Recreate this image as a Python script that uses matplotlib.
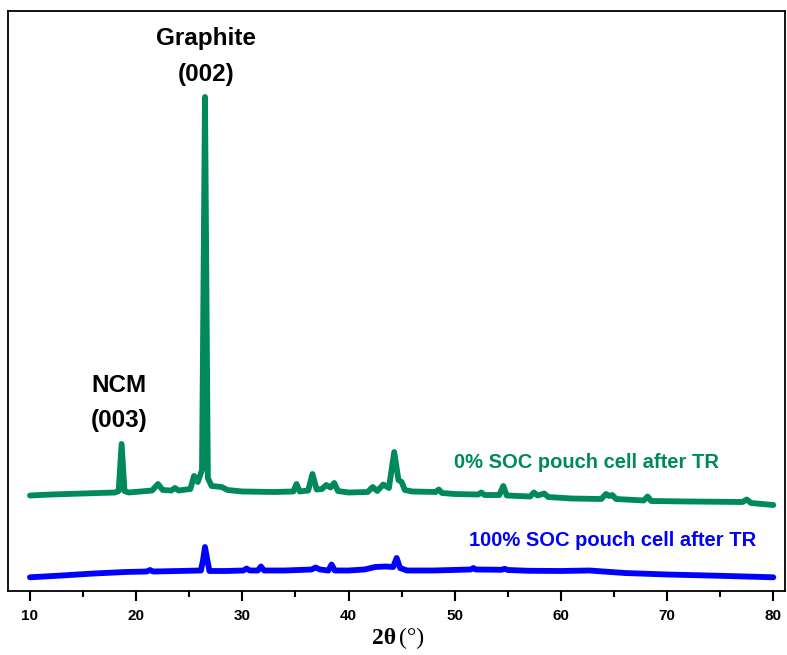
import numpy as np
import matplotlib
matplotlib.use("Agg")
import matplotlib.pyplot as plt
from matplotlib.ticker import MultipleLocator

#xrd patterns (2theta in degrees, intensity in a.u.)
two_theta_0 = [10.0, 12, 15, 18.0, 18.35, 18.63, 18.9, 19.3, 21.5, 22.05, 22.5, 23.3, 23.65, 24.0,
               25.1, 25.45, 25.8, 26.2, 26.48, 26.75, 27.1, 28.05, 28.6, 30, 33, 34.8, 35.1, 35.4,
               36.2, 36.6, 37.0, 37.5, 37.9, 38.3, 38.65, 39.0, 40, 41.8, 42.27, 42.7, 43.27, 43.8,
               44.3, 44.7, 45.0, 45.3, 46, 48.2, 48.5, 48.8, 50, 52.2, 52.5, 52.8, 54.2, 54.57,
               54.9, 57.1, 57.46, 57.8, 58.43, 58.8, 61, 63.8, 64.24, 64.55, 64.83, 65.2, 67.8,
               68.16, 68.5, 72, 77.1, 77.5, 77.9, 80]
intensity_0 = [95.5, 96.5, 97.5, 98.5, 100, 147, 100, 98.5, 100.5, 107, 101, 100.5, 103, 100.5,
               102, 115, 109, 121, 494, 113, 105, 104, 101, 99.5, 99, 99.5, 107, 99.5,
               100.5, 117, 101.5, 102, 106, 103.5, 108, 100, 98.5, 99, 104, 100, 106.5, 103,
               139, 111, 109, 101, 99.5, 99, 101.5, 98, 97, 96.5, 98.5, 96, 96, 105,
               95.5, 94.5, 98.5, 95.5, 97.5, 94, 92.5, 92, 97, 95, 96, 92, 90.5,
               94.5, 90, 89.5, 89, 91.5, 88, 86]

two_theta_100 = [10.0, 13, 16, 19, 21.0, 21.3, 21.6, 24, 26.1, 26.3, 26.48, 26.7, 26.9, 28.5,
                 30.1, 30.4, 30.7, 31.45, 31.75, 32.05, 34, 36.5, 36.9, 37.3, 38.1, 38.4, 38.7,
                 40, 41.5, 42.5, 43.5, 44.2, 44.53, 44.85, 45.5, 48, 51.5, 51.75, 52, 54.4,
                 54.7, 55, 57, 60, 62.7, 64, 66, 70, 75, 80]
intensity_100 = [13.7, 15.5, 17.5, 19, 19.5, 21, 19.5, 20, 20.5, 31, 44, 31, 20, 20,
                 20.5, 22.5, 20.5, 20.5, 24.5, 20.5, 20.5, 21.5, 23.5, 21.5, 20.5, 26.5, 20.5,
                 20.5, 21.5, 24, 24.5, 24, 33, 23, 20.5, 20.5, 21.5, 23, 21.5, 21.2,
                 22.2, 21, 20.2, 20, 20.5, 19.5, 18, 16.5, 15.2, 13.7]

label_0 = "0% SOC pouch cell after TR"
label_100 = "100% SOC pouch cell after TR"
green = "#008A5A"
blue = "#0000FF"

fig = plt.figure(figsize=(7.87, 6.55), dpi=100)
ax = fig.add_axes([8/787, 64/655, 777/787, 580/655])

ax.plot(two_theta_0, intensity_0, color=green, lw=4.2, solid_joinstyle="round", solid_capstyle="round")
ax.plot(two_theta_100, intensity_100, color=blue, lw=4.2, solid_joinstyle="round", solid_capstyle="round")

ax.set_xlim(7.93, 81.1)
ax.set_ylim(0, 580)

#peak labels
ax.text(26.6, 553, "Graphite", ha="center", va="center", fontsize=17.5, fontweight="bold", family="Liberation Sans")
ax.text(26.6, 517, "(002)", ha="center", va="center", fontsize=17.5, fontweight="bold", family="Liberation Sans")
ax.text(18.4, 206, "NCM", ha="center", va="center", fontsize=17.5, fontweight="bold", family="Liberation Sans")
ax.text(18.4, 170, "(003)", ha="center", va="center", fontsize=17.5, fontweight="bold", family="Liberation Sans")

#series labels
ax.text(62.45, 129, label_0, ha="center", va="center", fontsize=14.5, fontweight="bold", color=green, family="Liberation Sans")
ax.text(64.85, 50, label_100, ha="center", va="center", fontsize=14.5, fontweight="bold", color=blue, family="Liberation Sans")

#axes styling
ax.set_yticks([])
ax.xaxis.set_major_locator(MultipleLocator(10))
ax.xaxis.set_minor_locator(MultipleLocator(5))
ax.tick_params(axis="x", which="major", direction="out", length=7, width=1.5, pad=6)
ax.tick_params(axis="x", which="minor", direction="out", length=4, width=1.5)
for lbl in ax.get_xticklabels():
    lbl.set_fontweight("bold")
    lbl.set_fontsize(11)
    lbl.set_family("Liberation Sans")
for s in ax.spines.values():
    s.set_linewidth(1.3)

#x axis label: bold 2theta, plain degree sign
fig.text(396/787, 1 - 638/655, "2θ", ha="right", va="center", fontsize=17, fontweight="bold", family="Liberation Serif")
fig.text(399/787, 1 - 638/655, "(°)", ha="left", va="center", fontsize=17, family="Liberation Serif")

fig.savefig("out.png", dpi=100)
